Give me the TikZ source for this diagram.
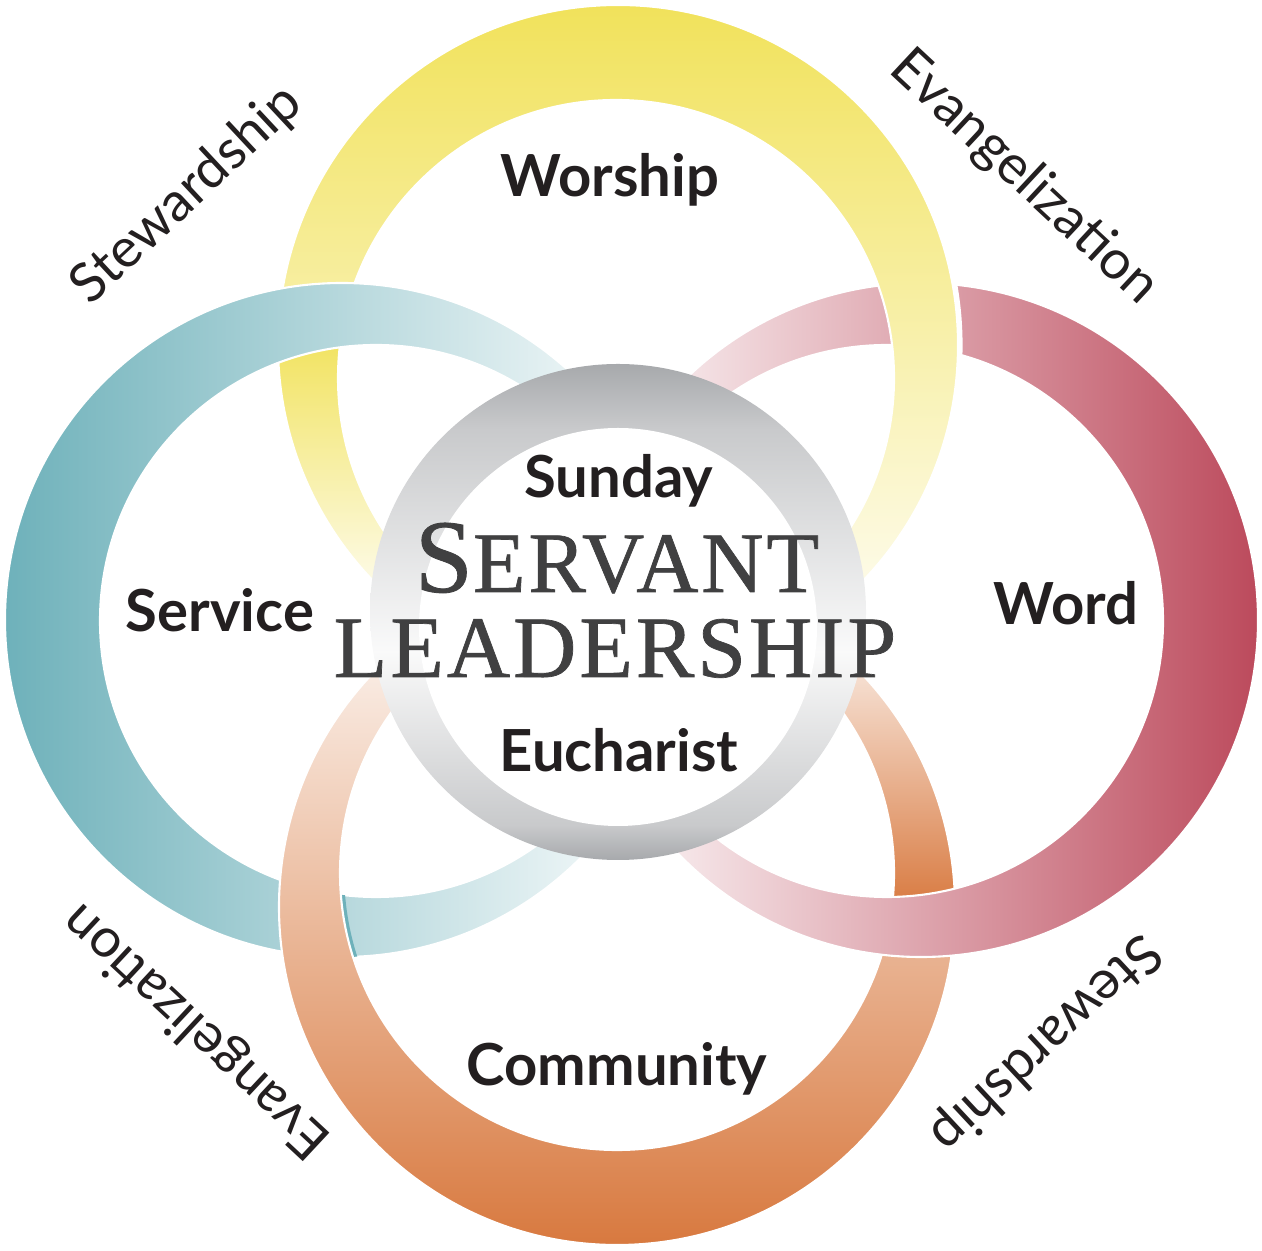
\documentclass[tikz,border=0pt]{standalone}
\usepackage{fontspec}
\usepackage{tikz}

\newfontfamily\labelfont{Lato}
\newfontfamily\titlefont{Liberation Serif}[LetterSpace=3.5, FakeBold=0.8]

\definecolor{worshipyellow}{HTML}{F1E25B}
\definecolor{serviceteal}{HTML}{6EB1BA}
\definecolor{wordred}{HTML}{BC4A5C}
\definecolor{communityorange}{HTML}{D8793F}
\definecolor{ringgray}{HTML}{A7A9AC}
\definecolor{inkgray}{HTML}{404041}
\definecolor{inkblack}{HTML}{231F20}

\pgfdeclareverticalshading{grayband}{100bp}{color(0bp)=(ringgray); color(25bp)=(ringgray); color(28.5bp)=(ringgray!62); color(46bp)=(ringgray!6); color(68.5bp)=(ringgray!62); color(75bp)=(ringgray); color(100bp)=(ringgray)}

% the four rings: outer circle, then inner circle run backwards
\newcommand\worshipring{(9.58,9.05) arc[start angle=0,end angle=360,radius=3.40] (8.94,8.72) arc[start angle=360,end angle=0,radius=2.78]}
\newcommand\servicering{(6.79,6.30) arc[start angle=0,end angle=360,radius=3.37] (6.52,6.29) arc[start angle=360,end angle=0,radius=2.76]}
\newcommand\wordring{(12.58,6.30) arc[start angle=0,end angle=360,radius=3.37] (11.63,6.29) arc[start angle=360,end angle=0,radius=2.76]}
\newcommand\communityring{(9.55,3.43) arc[start angle=0,end angle=360,radius=3.38] (8.94,3.77) arc[start angle=360,end angle=0,radius=2.77]}

\tikzset{
  ringlabel/.style={font=\labelfont\bfseries\fontsize{16.5}{20}\selectfont, text=inkblack, anchor=base},
  outerlabel/.style={font=\labelfont\fontsize{15.5}{18}\selectfont, text=inkblack},
  titlelabel/.style={font=\titlefont\fontsize{24.5}{30}\selectfont, text=inkgray, anchor=base},
  seam/.style={draw=white, line width=0.6pt}
}

\begin{document}
\begin{tikzpicture}
  \useasboundingbox (0,0) rectangle (12.62,12.50);

  % Word
  \shade[left color=white, right color=wordred] \wordring;
  \draw[seam] \wordring;
  \begin{scope}
    \clip \wordring;
    \draw[white, line width=2.6pt] (6.18,9.05) circle (3.40);
  \end{scope}

  % Worship
  \shade[top color=worshipyellow, bottom color=white] \worshipring;
  \begin{scope}
    \clip \worshipring;
    \shade[top color=worshipyellow, bottom color=white] (2.5,6.2) rectangle (4.8,9.2);
  \end{scope}
  \draw[seam] \worshipring;

  % Service
  \shade[left color=serviceteal, right color=white] \servicering;
  \draw[seam] \servicering;
  \begin{scope}
    \clip \servicering;
    \draw[serviceteal, line width=2.4pt] (6.17,3.77) circle (2.77);
  \end{scope}

  % Community
  \shade[top color=white, bottom color=communityorange] \communityring;
  \begin{scope}
    \clip \communityring;
    \shade[top color=white, bottom color=communityorange] (7.8,3.4) rectangle (10.0,6.5);
  \end{scope}
  \draw[seam] \communityring;

  % Word passes over Community
  \begin{scope}
    \clip (8.5,2.75) rectangle (10.1,4.0);
    \shade[left color=white, right color=wordred] \wordring;
    \draw[seam] \wordring;
  \end{scope}

  % centre ring
  \shade[shading=grayband] (6.18,6.38) circle (2.48);
  \fill[white] (6.18,6.23) circle (1.99);

  \node[ringlabel] (worship) at (6.10,10.53) {Worship};
  \node[ringlabel] (service) at (2.20,6.18) {Service};
  \node[ringlabel] (word) at (10.66,6.25) {Word};
  \node[ringlabel] (community) at (6.17,1.65) {Community};
  \node[ringlabel] (sunday) at (6.19,7.52) {Sunday};
  \node[ringlabel] (eucharist) at (6.19,4.78) {Eucharist};
  \node[titlelabel] (servant) at (6.17,6.58) {{\fontsize{29.7}{30}\selectfont S}ERVANT};
  \node[titlelabel] (leadership) at (6.15,5.73) {\fontsize{24.9}{30}\selectfont LEADERSHIP};

  \node[outerlabel, rotate=43] (stewardshipA) at (1.87,10.55) {Stewardship};
  \node[outerlabel, rotate=-43] (evangelizationA) at (10.24,10.72) {Evangelization};
  \node[outerlabel, rotate=-137] (stewardshipB) at (10.45,2.07) {Stewardship};
  \node[outerlabel, rotate=137] (evangelizationB) at (1.97,2.20) {Evangelization};
\end{tikzpicture}
\end{document}
